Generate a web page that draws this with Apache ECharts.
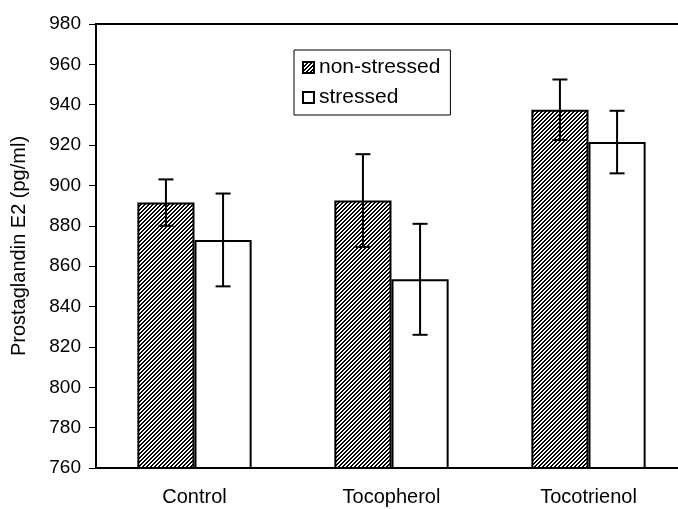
<!DOCTYPE html>
<html>
<head>
<meta charset="utf-8">
<script src="https://cdn.jsdelivr.net/npm/echarts@6/dist/echarts.min.js"></script>
<style>
  html, body { margin: 0; padding: 0; background: #fff; }
  #chart { width: 678px; height: 509px; }
</style>
</head>
<body>
<div id="chart"></div>
<script>
// Prostaglandin E2 levels by treatment group (mean ± error)
const categories = ['Control', 'Tocopherol', 'Tocotrienol'];
const seriesNames = ['non-stressed', 'stressed'];
const nonStressed = [891.5, 892.5, 937.5];
const nonStressedErr = [11.5, 23, 15];
const stressed = [873, 853.5, 921.5];
const stressedErr = [23, 27.5, 15.5];
const yTicks = { min: 760, max: 980, step: 20 };

const FONT = '"Liberation Sans", Arial, sans-serif';

// Diagonal hatch tile: black and white "/" stripes
function makeHatch() {
  const size = 4;
  const c = document.createElement('canvas');
  c.width = size; c.height = size;
  const ctx = c.getContext('2d');
  const img = ctx.createImageData(size, size);
  for (let y = 0; y < size; y++) {
    for (let x = 0; x < size; x++) {
      const dark = ((x + y) % size) < 2;
      const i = (y * size + x) * 4;
      const v = dark ? 0 : 255;
      img.data[i] = v; img.data[i + 1] = v; img.data[i + 2] = v; img.data[i + 3] = 255;
    }
  }
  ctx.putImageData(img, 0, 0);
  return c;
}
const hatch = { image: makeHatch(), repeat: 'repeat' };

const BAR_FRAC = 0.29; // bar width as a fraction of the category band

// Error bar renderer; offsetSign positions it over the left or right bar
function errorRenderer(offsetSign) {
  return function (params, api) {
    const idx = api.value(0);
    const lo = api.value(1);
    const hi = api.value(2);
    const band = api.size([1, 0])[0];
    const dx = offsetSign * band * BAR_FRAC / 2;
    const pHi = api.coord([idx, hi]);
    const pLo = api.coord([idx, lo]);
    const x = pHi[0] + dx;
    const cap = 7.5;
    const style = { stroke: '#000', lineWidth: 2 };
    return {
      type: 'group',
      children: [
        { type: 'line', shape: { x1: x, y1: pHi[1], x2: x, y2: pLo[1] }, style },
        { type: 'line', shape: { x1: x - cap, y1: pHi[1], x2: x + cap, y2: pHi[1] }, style },
        { type: 'line', shape: { x1: x - cap, y1: pLo[1], x2: x + cap, y2: pLo[1] }, style }
      ]
    };
  };
}

function errData(vals, errs) {
  return vals.map((v, i) => [i, v - errs[i], v + errs[i]]);
}

const chart = echarts.init(document.getElementById('chart'), null, { renderer: 'canvas' });

chart.setOption({
  animation: false,
  backgroundColor: '#fff',
  textStyle: { fontFamily: FONT, color: '#000' },
  grid: {
    left: 96, top: 24, width: 591, height: 444,
    outerBoundsMode: 'none',
    containLabel: false,
    show: true, borderColor: '#000', borderWidth: 2, backgroundColor: 'transparent'
  },
  legend: {
    data: seriesNames,
    orient: 'vertical',
    left: 294, top: 50,
    padding: [7, 10, 7, 8],
    itemGap: 9,
    itemWidth: 11, itemHeight: 11,
    borderColor: '#000', borderWidth: 1,
    icon: 'rect',
    textStyle: { fontFamily: FONT, fontSize: 21, color: '#000' }
  },
  xAxis: {
    type: 'category',
    data: categories,
    axisLine: { lineStyle: { color: '#000', width: 2 } },
    axisTick: { show: false },
    axisLabel: { fontFamily: FONT, fontSize: 20, color: '#000', margin: 19 },
    splitLine: { show: false }
  },
  yAxis: {
    type: 'value',
    min: yTicks.min, max: yTicks.max, interval: yTicks.step,
    name: 'Prostaglandin E2 (pg/ml)',
    nameLocation: 'middle',
    nameGap: 67,
    nameTextStyle: { fontFamily: FONT, fontSize: 20, color: '#000' },
    axisLine: { show: true, lineStyle: { color: '#000', width: 2 } },
    axisTick: { show: true, length: 7, lineStyle: { color: '#000', width: 1 } },
    axisLabel: { fontFamily: FONT, fontSize: 19, color: '#000', margin: 15 },
    splitLine: { show: false }
  },
  series: [
    {
      name: seriesNames[0],
      type: 'bar',
      data: nonStressed,
      barWidth: (BAR_FRAC * 100) + '%',
      barGap: '0%',
      itemStyle: { color: hatch, borderColor: '#000', borderWidth: 2 }
    },
    {
      name: seriesNames[1],
      type: 'bar',
      data: stressed,
      barWidth: (BAR_FRAC * 100) + '%',
      barGap: '0%',
      itemStyle: { color: '#fff', borderColor: '#000', borderWidth: 2 }
    },
    {
      type: 'custom',
      renderItem: errorRenderer(-1),
      data: errData(nonStressed, nonStressedErr),
      z: 10,
      silent: true
    },
    {
      type: 'custom',
      renderItem: errorRenderer(1),
      data: errData(stressed, stressedErr),
      z: 10,
      silent: true
    }
  ]
});
</script>
</body>
</html>
